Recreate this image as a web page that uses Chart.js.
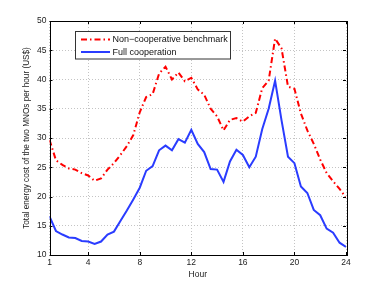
<!DOCTYPE html>
<html>
<head>
<meta charset="utf-8">
<script src="https://cdn.jsdelivr.net/npm/chart.js@4/dist/chart.umd.min.js"></script>
<style>
html,body{margin:0;padding:0;background:#fff;}
#wrap{width:382px;height:287px;position:relative;}
</style>
</head>
<body>
<div id="wrap"><canvas id="c" width="382" height="287"></canvas></div>
<script>
const hours = [1,1.5,2,2.5,3,3.5,4,4.5,5,5.5,6,6.5,7,7.5,8,8.5,9,9.5,10,10.5,11,11.5,12,12.5,13,13.5,14,14.5,15,15.5,16,16.5,17,17.5,18,18.5,19,19.5,20,20.5,21,21.5,22,22.5,23,23.5,24];
const nonCooperative = [29.7,26.2,25.4,24.8,24.6,24.0,23.6,22.7,23.1,24.6,25.7,27.1,28.6,30.5,34.4,37.0,37.5,41.0,42.2,40.0,41.2,39.7,40.3,38.3,37.4,35.0,33.7,31.3,33.1,33.4,32.8,33.7,34.3,38.5,39.8,47.0,45.3,38.8,38.4,34.2,31.3,29.0,26.3,24.0,22.6,21.3,19.8];
const fullCooperation = [16.6,14.1,13.5,13.0,12.9,12.4,12.3,11.9,12.3,13.5,14.0,15.8,17.6,19.5,21.5,24.4,25.2,27.9,28.7,27.9,29.8,29.2,31.4,29.0,27.6,24.7,24.6,22.5,26.0,28.0,27.1,25.0,26.8,31.5,35.0,39.8,33.0,26.8,25.7,21.7,20.6,17.7,16.8,14.5,13.8,12.1,11.4];
const xTicks = [1,4,8,12,16,20,24];
const yTicks = [10,15,20,25,30,35,40,45,50];
const seriesLabels = ['Non\u2212cooperative benchmark','Full cooperation'];
const xTitle = 'Hour';
const yTitle = 'Total energy cost of the two MNOs per hour (US$)';

const FONT = 'Liberation Sans, Arial, Helvetica, sans-serif';
const FS = 8.5;

const framePlugin = {
  id:'frame',
  afterDatasetsDraw(chart){
    const {ctx, chartArea:a, scales:{x,y}} = chart;
    ctx.save();
    ctx.strokeStyle = '#000';
    ctx.lineWidth = 1;
    ctx.setLineDash([]);
    ctx.strokeRect(Math.round(a.left)+0.5, Math.round(a.top)+0.5, Math.round(a.right-a.left), Math.round(a.bottom-a.top));
    const L = 3;
    ctx.beginPath();
    xTicks.forEach(v=>{
      const px = Math.round(x.getPixelForValue(v))+0.5;
      ctx.moveTo(px,a.bottom); ctx.lineTo(px,a.bottom-L);
      ctx.moveTo(px,a.top); ctx.lineTo(px,a.top+L);
    });
    yTicks.forEach(v=>{
      const py = Math.round(y.getPixelForValue(v))+0.5;
      ctx.moveTo(a.left,py); ctx.lineTo(a.left+L,py);
      ctx.moveTo(a.right,py); ctx.lineTo(a.right-L,py);
    });
    ctx.stroke();
    // legend
    const bx=75.5, by=31.5, bw=155, bh=27.5;
    ctx.fillStyle='#fff';
    ctx.fillRect(bx,by,bw,bh);
    ctx.strokeStyle='#333';
    ctx.strokeRect(bx,by,bw,bh);
    ctx.font = '9px '+FONT;
    ctx.textBaseline='middle';
    ctx.textAlign='left';
    chart.data.datasets.forEach((ds,i)=>{
      const yy = by + 8 + i*12.5;
      ctx.save();
      ctx.strokeStyle = ds.borderColor;
      ctx.lineWidth = ds.borderWidth;
      ctx.setLineDash(ds.borderDash||[]);
      ctx.beginPath(); ctx.moveTo(81,yy); ctx.lineTo(110,yy); ctx.stroke();
      ctx.restore();
      ctx.fillStyle='#111';
      ctx.fillText(ds.label,112.5,yy+0.5);
    });
    ctx.restore();
  }
};

new Chart(document.getElementById('c'),{
  type:'line',
  data:{
    datasets:[
      {label:seriesLabels[0], data:hours.map((h,i)=>({x:h,y:nonCooperative[i]})), borderColor:'#ff0000', borderWidth:2, borderDash:[6,3,1.5,3], pointRadius:0, tension:0, fill:false},
      {label:seriesLabels[1], data:hours.map((h,i)=>({x:h,y:fullCooperation[i]})), borderColor:'#2a3cff', borderWidth:2, pointRadius:0, tension:0, fill:false}
    ]
  },
  options:{
    responsive:false,
    animation:false,
    devicePixelRatio:1,
    layout:{padding:{top:21,right:36,left:0,bottom:0}},
    plugins:{legend:{display:false},tooltip:{enabled:false}},
    scales:{
      x:{
        type:'linear', min:1, max:24,
        afterBuildTicks:s=>{s.ticks = xTicks.map(v=>({value:v}));},
        afterFit:s=>{s.height=32;},
        ticks:{font:{family:FONT,size:FS},color:'#222',padding:3,maxRotation:0,autoSkip:false},
        grid:{color:'#c4c4c4',lineWidth:1,drawTicks:false},
        border:{display:false,dash:[1,2]},
        title:{display:true,text:xTitle,font:{family:FONT,size:FS},color:'#222',padding:{top:0,bottom:7}}
      },
      y:{
        min:10, max:50,
        afterBuildTicks:s=>{s.ticks = yTicks.map(v=>({value:v}));},
        afterFit:s=>{s.width=49.5;},
        ticks:{font:{family:FONT,size:FS},color:'#222',padding:3,autoSkip:false},
        grid:{color:'#c4c4c4',lineWidth:1,drawTicks:false},
        border:{display:false,dash:[1,2]},
        title:{display:true,text:yTitle,font:{family:FONT,size:8.2},color:'#222',padding:{top:22,bottom:0}}
      }
    }
  },
  plugins:[framePlugin]
});
</script>
</body>
</html>
